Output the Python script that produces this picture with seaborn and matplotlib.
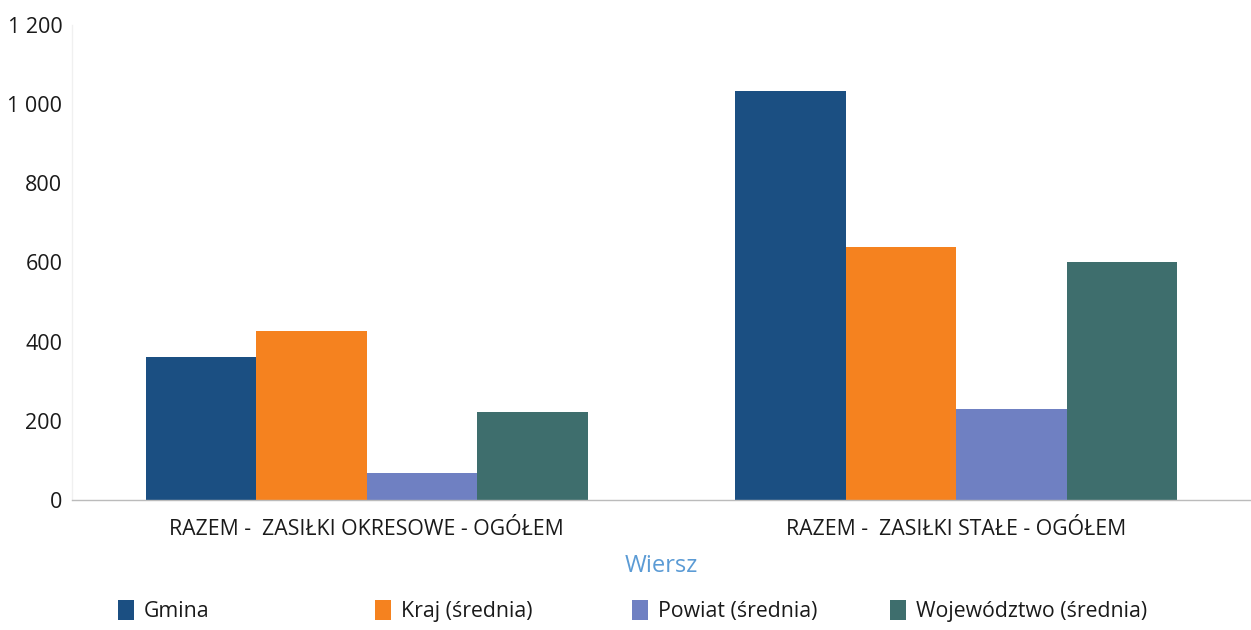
import matplotlib
matplotlib.use("Agg")
import matplotlib.pyplot as plt
import matplotlib.ticker as mticker
from matplotlib.patches import Patch
import seaborn as sns
import pandas as pd

categories = ["RAZEM -  ZASIŁKI OKRESOWE - OGÓŁEM", "RAZEM -  ZASIŁKI STAŁE - OGÓŁEM"]
series = ["Gmina", "Kraj (średnia)", "Powiat (średnia)", "Województwo (średnia)"]
gmina = [362, 1034]
kraj = [428, 638]
powiat = [68, 230]
wojewodztwo = [222, 601]
colors = ["#1b4f82", "#f5821f", "#6f80c2", "#3e6e6d"]
y_ticks = [0, 200, 400, 600, 800, 1000, 1200]

rows = []
for name, vals in zip(series, [gmina, kraj, powiat, wojewodztwo]):
    for cat, v in zip(categories, vals):
        rows.append({"Wiersz": cat, "Seria": name, "Wartość": v})
df = pd.DataFrame(rows)

sns.set_theme(style="white")
plt.rcParams["font.family"] = ["Open Sans", "DejaVu Sans"]

fig = plt.figure(figsize=(12.51, 6.3), dpi=100)
ax = fig.add_axes([72 / 1251, 1 - 500 / 630, 1 - 72 / 1251, (500 - 25) / 630])

sns.barplot(data=df, x="Wiersz", y="Wartość", hue="Seria", order=categories,
            hue_order=series, palette=colors, width=0.75, saturation=1,
            edgecolor="none", linewidth=0, legend=False, ax=ax)

ax.set_xlim(-0.5, 1.5)
ax.set_ylim(0, 1200)
ax.set_yticks(y_ticks)
ax.yaxis.set_major_formatter(mticker.FuncFormatter(
    lambda v, p: f"{int(v):,}".replace(",", " ")))
ax.tick_params(axis="y", labelsize=15.5, length=0, pad=7, colors="#1a1a1a")
ax.tick_params(axis="x", labelsize=15.3, length=0, pad=14, colors="#1a1a1a")
ax.set_xlabel("Wiersz", fontsize=17, color="#5b9bd5", labelpad=10)
ax.set_ylabel("")
for s in ["top", "right"]:
    ax.spines[s].set_visible(False)
ax.spines["left"].set_color("#f0f0f0")
ax.spines["left"].set_linewidth(1)
ax.spines["bottom"].set_color("#bbbbbb")
ax.spines["bottom"].set_linewidth(1)
ax.grid(False)

legend_x = [118, 375, 632, 890]
for name, col, lx in zip(series, colors, legend_x):
    leg = fig.legend(handles=[Patch(facecolor=col, edgecolor="none")], labels=[name],
                     loc="center left", bbox_to_anchor=(lx / 1251, 1 - 611 / 630),
                     frameon=False, fontsize=15.3, handlelength=0.75, handleheight=1.1,
                     handletextpad=0.45, borderpad=0, borderaxespad=0)
    for t in leg.get_texts():
        t.set_color("#1a1a1a")

fig.savefig("out.png", dpi=100)
